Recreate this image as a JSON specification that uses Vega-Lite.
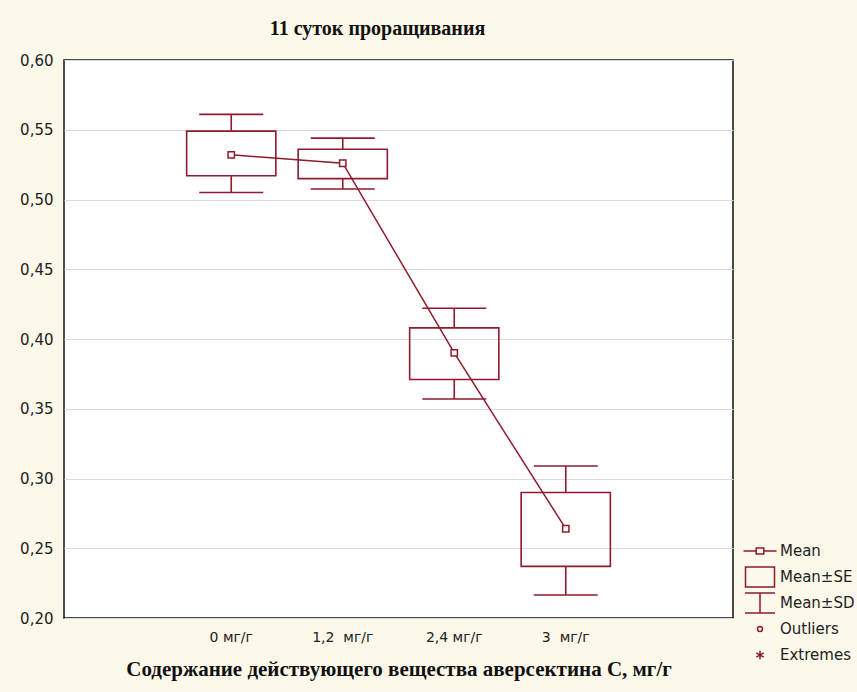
{
  "$schema": "https://vega.github.io/schema/vega-lite/v6.json",
  "width": 669,
  "height": 558,
  "autosize": {"type": "none"},
  "padding": {"left": 64, "top": 60, "right": 124, "bottom": 74},
  "background": "#fcf8ea",
  "config": {
    "view": {"fill": "white", "stroke": "#111", "strokeWidth": 1.5},
    "font": "DejaVu Sans"
  },
  "title": {
    "text": "11 суток проращивания",
    "font": "Liberation Serif",
    "fontSize": 20,
    "fontWeight": "bold",
    "color": "#111",
    "dx": -21,
    "offset": 14
  },
  "data": {
    "values": [
      {"cat": "0 мг/г", "mean": 0.532, "se_lo": 0.517, "se_hi": 0.549, "sd_lo": 0.505, "sd_hi": 0.561},
      {"cat": "1,2  мг/г", "mean": 0.526, "se_lo": 0.515, "se_hi": 0.536, "sd_lo": 0.5075, "sd_hi": 0.544},
      {"cat": "2,4 мг/г", "mean": 0.39, "se_lo": 0.371, "se_hi": 0.408, "sd_lo": 0.357, "sd_hi": 0.422},
      {"cat": "3  мг/г", "mean": 0.264, "se_lo": 0.237, "se_hi": 0.29, "sd_lo": 0.2165, "sd_hi": 0.309}
    ]
  },
  "encoding": {
    "x": {
      "field": "cat",
      "type": "nominal",
      "sort": null,
      "scale": {
        "type": "band",
        "domain": ["L", "0 мг/г", "1,2  мг/г", "2,4 мг/г", "3  мг/г", "R"],
        "paddingInner": 0,
        "paddingOuter": 0
      },
      "axis": {
        "title": "Содержание действующего вещества аверсектина С,  мг/г",
        "titleFont": "Liberation Serif",
        "titleFontSize": 21,
        "titleFontWeight": "bold",
        "titleColor": "#111",
        "titlePadding": 14,
        "labelAngle": 0,
        "labelFontSize": 14,
        "labelColor": "#222",
        "labelPadding": 12,
        "labelExpr": "datum.value == 'L' || datum.value == 'R' ? '' : replace(datum.value, '  ', '\u00a0 ')",
        "domain": false,
        "ticks": false,
        "grid": false
      }
    }
  },
  "layer": [
    {
      "mark": {"type": "bar", "fill": "transparent", "stroke": "#8e1b2e", "strokeWidth": 1.6, "width": {"band": 0.8}},
      "encoding": {
        "y": {
          "field": "se_lo",
          "type": "quantitative",
          "scale": {"domain": [0.2, 0.6], "nice": false, "zero": false},
          "axis": {
            "title": null,
            "values": [0.2, 0.25, 0.3, 0.35, 0.4, 0.45, 0.5, 0.55, 0.6],
            "labelExpr": "replace(format(datum.value, '.2f'), '.', ',')",
            "labelFontSize": 15,
            "labelColor": "#222",
            "labelPadding": 11,
            "ticks": false,
            "domain": false,
            "grid": true,
            "gridColor": "#dadada",
            "gridWidth": 1
          }
        },
        "y2": {"field": "se_hi"}
      }
    },
    {
      "mark": {"type": "rule", "color": "#8e1b2e", "strokeWidth": 1.6},
      "encoding": {"y": {"field": "se_hi", "type": "quantitative"}, "y2": {"field": "sd_hi"}}
    },
    {
      "mark": {"type": "rule", "color": "#8e1b2e", "strokeWidth": 1.6},
      "encoding": {"y": {"field": "sd_lo", "type": "quantitative"}, "y2": {"field": "se_lo"}}
    },
    {
      "mark": {"type": "tick", "color": "#8e1b2e", "size": 64, "thickness": 1.6, "opacity": 1},
      "encoding": {"y": {"field": "sd_hi", "type": "quantitative"}}
    },
    {
      "mark": {"type": "tick", "color": "#8e1b2e", "size": 64, "thickness": 1.6, "opacity": 1},
      "encoding": {"y": {"field": "sd_lo", "type": "quantitative"}}
    },
    {
      "mark": {"type": "line", "color": "#8e1b2e", "strokeWidth": 1.5},
      "encoding": {"y": {"field": "mean", "type": "quantitative"}}
    },
    {
      "mark": {"type": "point", "shape": "square", "size": 40, "filled": true, "fill": "white", "stroke": "#8e1b2e", "strokeWidth": 1.5, "opacity": 1},
      "encoding": {"y": {"field": "mean", "type": "quantitative"}}
    },
    {
      "transform": [{"filter": "false"}],
      "mark": {"type": "point", "filled": false, "color": "#8e1b2e", "strokeWidth": 1.5, "opacity": 1},
      "encoding": {
        "y": {"field": "mean", "type": "quantitative"},
        "shape": {
          "field": "stat",
          "type": "nominal",
          "scale": {
            "domain": ["Mean", "Mean±SE", "Mean±SD", "Outliers", "Extremes"],
            "range": [
              "M0,-1.1M0,1.1M-1.65,0L-0.38,0M0.38,0L1.65,0M-0.38,-0.3L0.38,-0.3L0.38,0.3L-0.38,0.3Z",
              "M0,-1.1M0,1.1M-1.45,-1.0L1.45,-1.0L1.45,1.0L-1.45,1.0Z",
              "M0,-1.1M0,1.1M-1.5,-1.0L1.5,-1.0M0,-1.0L0,1.0M-1.5,1.0L1.5,1.0",
              "M0,-1.1M0,1.1M0.25,0A0.25,0.25 0 1,1 -0.25,0A0.25,0.25 0 1,1 0.25,0Z",
              "M0,-1.1M0,1.1M0,-0.42L0,0.42M-0.37,-0.21L0.37,0.21M-0.37,0.21L0.37,-0.21"
            ]
          },
          "legend": {
            "orient": "none",
            "legendX": 685,
            "legendY": 480,
            "title": null,
            "padding": 0,
            "symbolSize": 400,
            "symbolStrokeColor": "#8e1b2e",
            "symbolFillColor": "transparent",
            "symbolStrokeWidth": 1.5,
            "symbolOpacity": 1,
            "labelFont": "DejaVu Sans",
            "labelFontSize": 15,
            "labelColor": "#222",
            "labelOffset": 9,
            "rowPadding": -2
          }
        }
      }
    }
  ]
}
